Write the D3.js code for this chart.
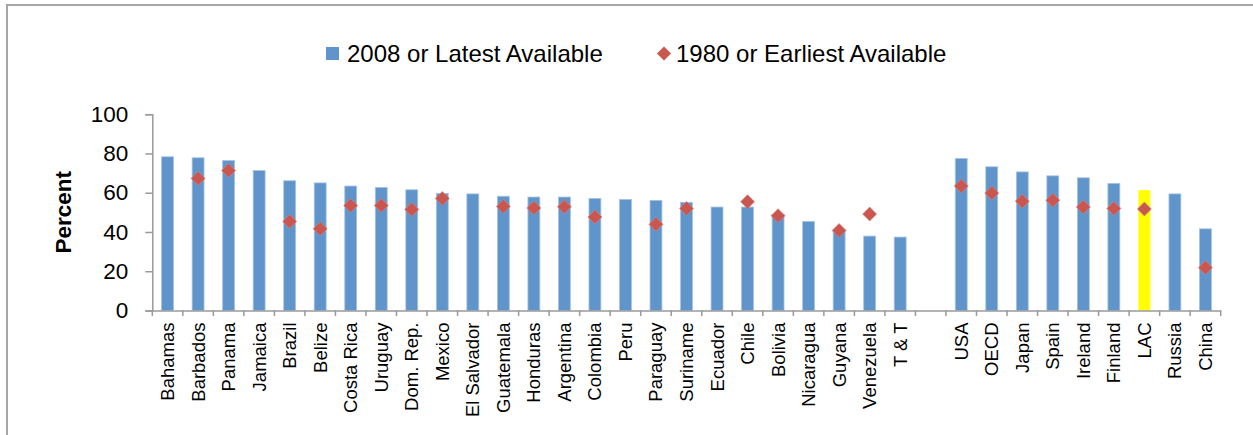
<!DOCTYPE html>
<html>
<head>
<meta charset="utf-8">
<script src="https://cdn.jsdelivr.net/npm/d3@7"></script>
<style>
  html, body { margin: 0; padding: 0; background: #fff; }
  svg { display: block; font-family: "Liberation Sans", Arial, sans-serif; }
</style>
</head>
<body>
<svg id="chart" width="1253" height="435"></svg>
<script>
// ---- data ----
const categories = ["Bahamas","Barbados","Panama","Jamaica","Brazil","Belize","Costa Rica","Uruguay","Dom. Rep.","Mexico","El Salvador","Guatemala","Honduras","Argentina","Colombia","Peru","Paraguay","Suriname","Ecuador","Chile","Bolivia","Nicaragua","Guyana","Venezuela","T & T","","USA","OECD","Japan","Spain","Ireland","Finland","LAC","Russia","China"];
const latest = [78.3,77.8,76.4,71.3,66.1,65.0,63.4,62.7,61.5,59.6,59.4,58.2,57.8,57.8,57.1,56.6,56.1,55.1,52.7,52.7,49.0,45.4,40.6,37.9,37.4,null,77.4,73.2,70.6,68.6,67.6,64.7,61.3,59.4,41.6];
const earliest = [null,67.3,71.3,null,45.4,41.6,53.5,53.5,51.5,57.1,null,53.0,52.2,52.8,47.6,null,43.9,52.0,null,55.4,48.3,null,40.8,49.1,null,null,63.4,59.8,55.7,56.2,52.7,52.0,51.7,null,21.8];
const yTicks = [0,20,40,60,80,100];
const seriesNames = ["2008 or Latest Available","1980 or Earliest Available"];
const yTitle = "Percent";
const highlight = "LAC";

// ---- layout ----
const svg = d3.select("#chart");
const pLeft = 152.3, pRight = 1220.7, pTop = 114.2, pBottom = 310.5;
const keys = categories.map((c, i) => i);
const x = d3.scaleBand().domain(keys).range([pLeft, pRight]).paddingInner(0).paddingOuter(0);
const y = d3.scaleLinear().domain([0, 100]).range([pBottom, pTop]);
const barColor = "#5F95CA", barEdge = "#A7C2E2", diaColor = "#C9564F", axisColor = "#9A9A9A";

// chart frame
svg.append("rect").attr("x", 7).attr("y", 5).attr("width", 1260).attr("height", 450)
  .attr("fill", "none").attr("stroke", "#A6A6A6").attr("stroke-width", 2);

// bars
const bw = x.bandwidth() * 0.39;
svg.append("g").selectAll("rect")
  .data(keys.filter(i => latest[i] != null))
  .join("rect")
  .attr("x", i => x(i) + x.bandwidth() / 2 - bw / 2)
  .attr("width", bw)
  .attr("y", i => y(latest[i]))
  .attr("height", i => y(0) - y(latest[i]))
  .attr("fill", i => categories[i] === highlight ? "#FFFF00" : barColor)
  .attr("stroke", i => categories[i] === highlight ? "none" : barEdge)
  .attr("stroke-width", 0.8);

// y axis
const yAxis = d3.axisLeft(y).tickValues(yTicks).tickSize(7).tickPadding(17).tickFormat(d3.format("d"));
const gy = svg.append("g").attr("transform", `translate(${pLeft},0)`).call(yAxis);
gy.select(".domain").attr("stroke", axisColor).attr("stroke-width", 1.5);
gy.selectAll(".tick line").attr("stroke", axisColor).attr("stroke-width", 1.5);
gy.selectAll(".tick text").attr("font-size", 22.5).attr("fill", "#000")
  .attr("font-family", "'Liberation Sans', Arial, sans-serif");

// x axis: line and boundary ticks
const xAxis = d3.axisBottom(x).tickSize(0).tickFormat(i => categories[i]);
const gx = svg.append("g").attr("transform", `translate(0,${pBottom})`).call(xAxis);
gx.select(".domain").attr("stroke", axisColor).attr("stroke-width", 1.5);
gx.selectAll(".tick line").remove();
gx.selectAll(".tick text")
  .attr("font-size", 18.5).attr("fill", "#000")
  .attr("font-family", "'Liberation Sans', Arial, sans-serif")
  .attr("text-anchor", "end")
  .attr("transform", "rotate(-90)")
  .attr("x", -12).attr("y", 0).attr("dy", "0.35em");
const bounds = keys.map(i => x(i)).concat([x(keys[keys.length - 1]) + x.bandwidth()]);
gx.append("g").selectAll("line").data(bounds).join("line")
  .attr("x1", d => d).attr("x2", d => d).attr("y1", 0).attr("y2", 5.5)
  .attr("stroke", axisColor).attr("stroke-width", 1.5);

// diamonds
const diamond = d3.symbol(d3.symbolSquare, 98);
svg.append("g").selectAll("path")
  .data(keys.filter(i => earliest[i] != null))
  .join("path")
  .attr("d", diamond)
  .attr("transform", i => `translate(${x(i) + x.bandwidth() / 2},${y(earliest[i])}) rotate(45)`)
  .attr("fill", diaColor)
  .attr("stroke", "#D98580").attr("stroke-width", 0.6);

// y title
svg.append("text")
  .attr("transform", `translate(71,${(pTop + pBottom) / 2}) rotate(-90)`)
  .attr("text-anchor", "middle")
  .attr("font-size", 22.5).attr("font-weight", "bold")
  .text(yTitle);

// legend
const lg = svg.append("g");
lg.append("rect").attr("x", 326).attr("y", 47).attr("width", 13).attr("height", 13).attr("fill", barColor);
lg.append("text").attr("x", 347).attr("y", 62).attr("font-size", 24).text(seriesNames[0]);
lg.append("path").attr("d", diamond)
  .attr("transform", "translate(664,53.5) rotate(45)").attr("fill", diaColor);
lg.append("text").attr("x", 676).attr("y", 62).attr("font-size", 24).text(seriesNames[1]);
</script>
</body>
</html>
